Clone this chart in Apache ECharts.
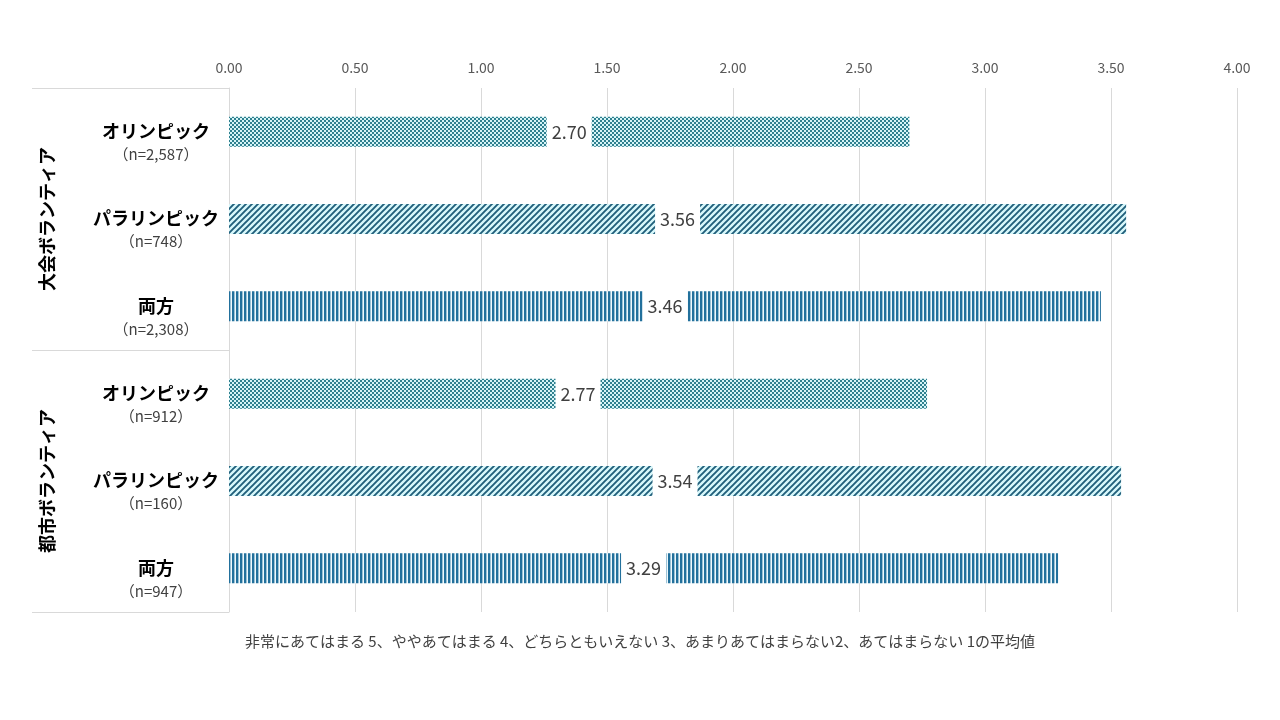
<!DOCTYPE html>
<html><head><meta charset="utf-8">
<script src="https://cdn.jsdelivr.net/npm/echarts@6/dist/echarts.min.js"></script>
<style>html,body{margin:0;padding:0;background:#fff}#c{width:1280px;height:720px}</style>
</head><body><div id="c"></div>
<script>
var names = ['オリンピック','パラリンピック','両方','オリンピック','パラリンピック','両方'];
var counts = ['（n=2,587）','（n=748）','（n=2,308）','（n=912）','（n=160）','（n=947）'];
var values = [2.70, 3.56, 3.46, 2.77, 3.54, 3.29];
var groups = ['大会ボランティア','都市ボランティア'];
var xTicks = [0, 0.5, 1, 1.5, 2, 2.5, 3, 3.5, 4];
var footnote = '非常にあてはまる 5、ややあてはまる 4、どちらともいえない 3、あまりあてはまらない2、あてはまらない 1の平均値';
var patternKinds = ['checker','diagonal','vertical','checker','diagonal','vertical'];

function makePattern(kind){
  var c = document.createElement('canvas');
  var ctx;
  if(kind==='checker'){
    c.width=4;c.height=4;ctx=c.getContext('2d');
    ctx.fillStyle='#d6f4f7';ctx.fillRect(0,0,4,4);
    ctx.fillStyle='#2f808f';ctx.fillRect(0,0,2,2);ctx.fillRect(2,2,2,2);
  } else if(kind==='diagonal'){
    var s=6;c.width=s;c.height=s;ctx=c.getContext('2d');
    ctx.fillStyle='#d8f8fb';ctx.fillRect(0,0,s,s);
    ctx.strokeStyle='#215f7b';ctx.lineWidth=1.9;
    ctx.beginPath();
    ctx.moveTo(-1,s+1);ctx.lineTo(s+1,-1);
    ctx.moveTo(-2,2);ctx.lineTo(2,-2);
    ctx.moveTo(s-2,s+2);ctx.lineTo(s+2,s-2);
    ctx.stroke();
  } else {
    c.width=4;c.height=4;ctx=c.getContext('2d');
    ctx.fillStyle='#eef8fc';ctx.fillRect(0,0,4,4);
    ctx.fillStyle='#22709c';ctx.fillRect(0,0,2.4,4);
  }
  return {image:c, repeat:'repeat'};
}

var font = '"Noto Sans CJK JP", "Noto Sans", sans-serif';
var chart = echarts.init(document.getElementById('c'), null, {renderer:'canvas'});
var cats = names.map(function(n,i){return n+'\n'+counts[i];});
chart.setOption({
  animation:false,
  backgroundColor:'#fff',
  textStyle:{fontFamily:font},
  title:{text:footnote, left:'center', top:629,
    textStyle:{fontFamily:font, fontSize:15, fontWeight:'normal', color:'#404040'}},
  grid:{left:229, right:43, top:88, bottom:108, containLabel:false},
  xAxis:{type:'value', position:'top', min:0, max:4, interval:0.5,
    axisLine:{show:false}, axisTick:{show:false},
    splitLine:{show:true, lineStyle:{color:'#d9d9d9', width:1}},
    axisLabel:{margin:13, fontSize:14, color:'#595959', fontFamily:font,
      formatter:function(v){return v.toFixed(2);}}},
  yAxis:[{
    type:'category', data:cats, inverse:true, position:'left',
    axisLine:{show:false}, axisTick:{show:false},
    axisLabel:{margin:73, align:'center', verticalAlign:'middle', padding:[22,0,0,0],
      formatter:function(v){var p=v.split('\n');return '{a|'+p[0]+'}\n{b|'+p[1]+'}';},
      rich:{a:{fontSize:18, fontWeight:'bold', color:'#000', lineHeight:23, fontFamily:font, align:'center'},
            b:{fontSize:15, color:'#404040', lineHeight:23, fontFamily:font, align:'center'}}}
  },{
    type:'category', data:groups, inverse:true, position:'left', offset:0,
    axisLine:{show:true, lineStyle:{color:'#d9d9d9', width:1}},
    axisTick:{show:true, length:197, lineStyle:{color:'#d9d9d9', width:1}},
    axisLabel:{rotate:90, margin:182, align:'center', verticalAlign:'middle',
      fontSize:18, fontWeight:'bold', color:'#000', fontFamily:font}
  }],
  series:[{
    type:'bar', yAxisIndex:0, barWidth:30,
    data:values.map(function(v,i){return {value:v, itemStyle:{color:makePattern(patternKinds[i])}};}),
    label:{show:true, position:'inside', fontSize:18, color:'#404040', fontFamily:font,
      backgroundColor:'#fff', padding:[0,5], lineHeight:33,
      formatter:function(p){return p.value.toFixed(2);}}
  }]
});
</script></body></html>
